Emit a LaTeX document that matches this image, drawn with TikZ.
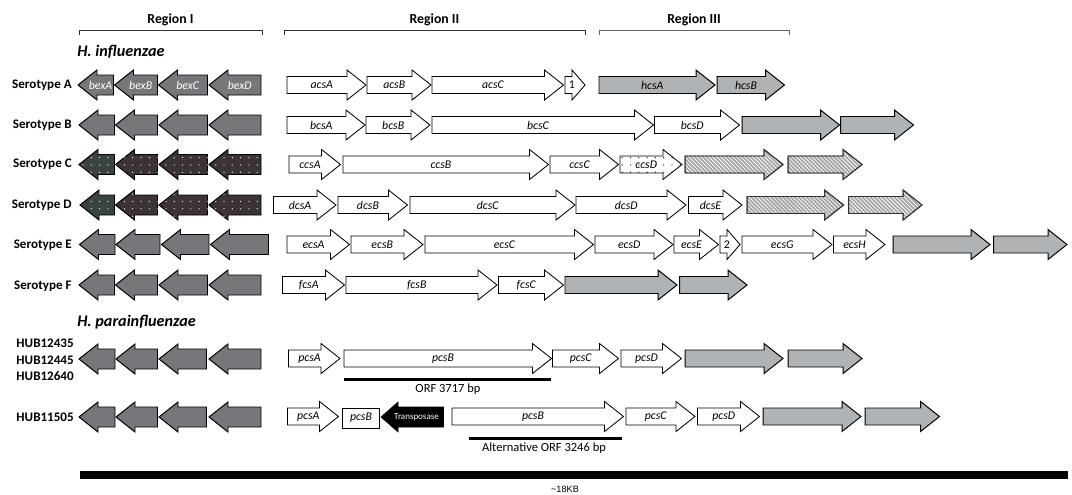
\documentclass[tikz,border=0pt]{standalone}
\usepackage{fontspec}
\setmainfont{Carlito}
\newfontfamily\arialfont{Liberation Sans}
\usepackage{xcolor}
\usetikzlibrary{patterns,patterns.meta}

\definecolor{bexgray}{RGB}{118,119,123}
\definecolor{hcsgray}{RGB}{176,179,181}
\definecolor{slatedark}{RGB}{59,66,66}
\definecolor{browndark}{RGB}{60,52,52}

\tikzdeclarepattern{
  name=sparsedots,
  type=uncolored,
  bottom left={(-1pt,-1pt)},
  top right={(1pt,1pt)},
  tile size={(5.9pt,5.2pt)},
  code={\fill (0pt,0pt) circle (0.45pt);}
}

% gene pointing right: [head] name, style, x start, x tip, y, label
\newcommand{\gener}[7][19]{%
  \draw[#3] (#4,#6-8.5) -- (#5-#1,#6-8.5) -- (#5-#1,#6-15) -- (#5,#6)
    -- (#5-#1,#6+15) -- (#5-#1,#6+8.5) -- (#4,#6+8.5) -- cycle;
  \node[genelab] (#2) at ({(#4+#5-#1/2)/2},#6) {#7};}
% gene pointing left: [head] name, style, x tip, x end, y, label
\newcommand{\genel}[7][19]{%
  \draw[#3] (#4,#6) -- (#4+#1,#6-15) -- (#4+#1,#6-10) -- (#5,#6-10)
    -- (#5,#6+10) -- (#4+#1,#6+10) -- (#4+#1,#6+15) -- cycle;
  \node[genelab, text=white] (#2) at ({(#4+#5+#1/2)/2},#6) {#7};}

\begin{document}
\begin{tikzpicture}[
  x=0.025cm, y=-0.025cm,
  bex/.style={draw=black, line width=0.7pt, fill=bexgray},
  bexdot/.style={draw=black, line width=0.7pt, fill=#1,
    postaction={pattern=sparsedots, pattern color=white}},
  cps/.style={draw=black, line width=0.6pt, fill=white},
  cpsdot/.style={cps, postaction={pattern=sparsedots, pattern color=black}},
  hcs/.style={draw=black, line width=0.7pt, fill=hcsgray},
  hatch/.style={draw=black!80, line width=0.7pt, fill=gray!70,
    postaction={pattern={Lines[angle=-45,distance=2pt,line width=0.55pt]},
      pattern color=white, draw=black!80, line width=0.7pt}},
  tnp/.style={draw=black, fill=black},
  genelab/.style={font=\fontsize{8.4}{10}\selectfont\itshape, inner sep=0pt},
  rowlab/.style={anchor=east, inner sep=0pt, font=\fontsize{9.3}{11}\selectfont\bfseries},
  regionlab/.style={inner sep=0pt, font=\fontsize{9.8}{12}\selectfont\bfseries},
  species/.style={anchor=west, inner sep=0pt, font=\fontsize{11.5}{14}\selectfont\bfseries\itshape},
  orflab/.style={inner sep=0pt, font=\fontsize{8.9}{11}\selectfont},
  bracket/.style={line width=0.6pt, black!80}
  ]
  \useasboundingbox (0,0) rectangle (1072,494);

  %% regions
  \node[regionlab] (r1) at (170.5,20) {Region I};
  \node[regionlab] (r2) at (434.5,20) {Region II};
  \node[regionlab] (r3) at (694,20) {Region III};
  \draw[bracket] (79,34.5) -- (79,30.5) -- (262,30.5) -- (262,34.5);
  \draw[bracket] (284,34.5) -- (284,30.5) -- (585,30.5) -- (585,34.5);
  \draw[bracket, black!60] (599,34.5) -- (599,30.5) -- (789,30.5) -- (789,34.5);

  \node[species] (hinf) at (77,52) {H. influenzae};

  %% Serotype A
  \node[rowlab] (sa) at (72,85) {Serotype A};
  \genel{bexA}{bex}{78}{113.5}{85}{bexA}
  \genel{bexB}{bex}{114.5}{157.5}{85}{bexB}
  \genel{bexC}{bex}{158.5}{207.5}{85}{bexC}
  \genel{bexD}{bex}{209}{261}{85}{bexD}
  \gener{acsA}{cps}{287}{366}{85}{acsA}
  \gener{acsB}{cps}{367}{431}{85}{acsB}
  \gener{acsC}{cps}{432}{563.5}{85}{acsC}
  \gener[13]{orf1}{cps}{565}{585}{85}{\upshape 1}
  \gener{hcsA}{hcs}{599}{715}{85}{hcsA}
  \gener{hcsB}{hcs}{717}{784.5}{85}{hcsB}

  %% Serotype B
  \node[rowlab] (sb) at (72,125) {Serotype B};
  \genel{bB1}{bex}{79}{114.5}{125}{}
  \genel{bB2}{bex}{115.5}{157.5}{125}{}
  \genel{bB3}{bex}{159}{207.5}{125}{}
  \genel{bB4}{bex}{209}{261}{125}{}
  \gener{bcsA}{cps}{287}{365}{125}{bcsA}
  \gener{bcsB}{cps}{366}{430}{125}{bcsB}
  \gener{bcsC}{cps}{432}{653.5}{125}{bcsC}
  \gener{bcsD}{cps}{654.5}{739.5}{125}{bcsD}
  \gener{hB1}{hcs}{742}{839.5}{125}{}
  \gener{hB2}{hcs}{840.5}{913.5}{125}{}

  %% Serotype C
  \node[rowlab] (sc) at (72,164.5) {Serotype C};
  \genel{bC1}{bexdot=slatedark}{79}{114.5}{164.5}{}
  \genel{bC2}{bexdot=browndark}{115.5}{157.5}{164.5}{}
  \genel{bC3}{bexdot=browndark}{159}{207.5}{164.5}{}
  \genel{bC4}{bexdot=browndark}{209}{261}{164.5}{}
  \gener{ccsA}{cps}{289}{340.5}{164.5}{ccsA}
  \gener{ccsB}{cps}{343}{548.5}{164.5}{ccsB}
  \gener{ccsC}{cps}{550}{618.5}{164.5}{ccsC}
  \gener{ccsD}{cpsdot}{620}{682}{164.5}{ccsD}
  \gener{hC1}{hatch}{685}{783}{164.5}{}
  \gener{hC2}{hatch}{788}{862}{164.5}{}

  %% Serotype D
  \node[rowlab] (sd) at (72,205) {Serotype D};
  \genel{bD1}{bexdot=slatedark}{80}{114.5}{205}{}
  \genel{bD2}{bexdot=browndark}{115.5}{157.5}{205}{}
  \genel{bD3}{bexdot=browndark}{159}{207.5}{205}{}
  \genel{bD4}{bexdot=browndark}{209}{261}{205}{}
  \gener{dcsA}{cps}{273.5}{336}{205}{dcsA}
  \gener{dcsB}{cps}{338}{407.5}{205}{dcsB}
  \gener{dcsC}{cps}{410}{575}{205}{dcsC}
  \gener{dcsD}{cps}{576}{686}{205}{dcsD}
  \gener{dcsE}{cps}{688.5}{742}{205}{dcsE}
  \gener{hD1}{hatch}{747}{843.5}{205}{}
  \gener{hD2}{hatch}{848.5}{922}{205}{}

  %% Serotype E
  \node[rowlab] (se) at (72,245) {Serotype E};
  \genel{bE1}{bex}{79.5}{115}{244.5}{}
  \genel{bE2}{bex}{116}{160}{244.5}{}
  \genel{bE3}{bex}{161.5}{209}{244.5}{}
  \genel{bE4}{bex}{210.5}{268.5}{244.5}{}
  \gener{ecsA}{cps}{287}{349.5}{244.5}{ecsA}
  \gener{ecsB}{cps}{351}{423}{244.5}{ecsB}
  \gener{ecsC}{cps}{425}{593.5}{244.5}{ecsC}
  \gener{ecsD}{cps}{595}{673}{244.5}{ecsD}
  \gener{ecsE}{cps}{674}{718.5}{244.5}{ecsE}
  \gener[13]{orf2}{cps}{720}{740}{244.5}{\upshape 2}
  \gener{ecsG}{cps}{742}{832}{244.5}{ecsG}
  \gener{ecsH}{cps}{833.5}{885}{244.5}{ecsH}
  \gener{hE1}{hcs}{893}{990}{244.5}{}
  \gener{hE2}{hcs}{993.5}{1067}{244.5}{}

  %% Serotype F
  \node[rowlab] (sf) at (72,286) {Serotype F};
  \genel{bF1}{bex}{79}{114.5}{285}{}
  \genel{bF2}{bex}{115.5}{157.5}{285}{}
  \genel{bF3}{bex}{159}{207.5}{285}{}
  \genel{bF4}{bex}{209}{261}{285}{}
  \gener{fcsA}{cps}{282.5}{344.5}{285}{fcsA}
  \gener{fcsB}{cps}{346}{497}{285}{fcsB}
  \gener{fcsC}{cps}{498.5}{563.5}{285}{fcsC}
  \gener{hF1}{hcs}{565}{677}{285}{}
  \gener{hF2}{hcs}{679.5}{747}{285}{}

  \node[species] (hpar) at (77,322) {H. parainfluenzae};

  %% HUB12435 / HUB12445 / HUB12640
  \node[rowlab] (hub1) at (74,343.5) {HUB12435};
  \node[rowlab] (hub2) at (74,360) {HUB12445};
  \node[rowlab] (hub3) at (74,376.5) {HUB12640};
  \genel{bP1}{bex}{79}{115}{359}{}
  \genel{bP2}{bex}{116}{157.5}{359}{}
  \genel{bP3}{bex}{159}{206.5}{359}{}
  \genel{bP4}{bex}{209}{261}{359}{}
  \gener{pcsA}{cps}{288.5}{340}{358.5}{pcsA}
  \gener{pcsB}{cps}{344}{551.5}{358.5}{pcsB}
  \gener{pcsC}{cps}{552.5}{618.5}{358.5}{pcsC}
  \gener{pcsD}{cps}{621}{681.5}{358.5}{pcsD}
  \gener{hP1}{hcs}{685}{783}{358.5}{}
  \gener{hP2}{hcs}{788}{862}{358.5}{}
  \draw[line width=2pt] (344,379.5) -- (551,379.5);
  \node[orflab] (orf) at (448,389) {ORF 3717 bp};

  %% HUB11505
  \node[rowlab] (hub4) at (74,417) {HUB11505};
  \genel{bQ1}{bex}{79}{115}{417}{}
  \genel{bQ2}{bex}{116}{157.5}{417}{}
  \genel{bQ3}{bex}{159}{206.5}{417}{}
  \genel{bQ4}{bex}{209}{261}{417}{}
  \gener{pcsA2}{cps}{287.5}{338.5}{416.5}{pcsA}
  \node[cps, genelab, minimum width=26.2pt, minimum height=14.2pt] (pcsBa) at (361,418) {pcsB};
  \genel[17]{tnp}{tnp}{381}{443.5}{417}{\upshape\fontsize{6.4}{8}\selectfont Transposase}
  \gener{pcsBb}{cps}{452}{623.5}{416.5}{pcsB}
  \gener{pcsC2}{cps}{626}{695}{416.5}{pcsC}
  \gener{pcsD2}{cps}{697.5}{759.5}{416.5}{pcsD}
  \gener{hQ1}{hcs}{763}{861}{416.5}{}
  \gener{hQ2}{hcs}{865}{939.5}{416.5}{}
  \draw[line width=2pt] (468.5,438.5) -- (621.5,438.5);
  \node[orflab] (altorf) at (544,448.5) {Alternative ORF 3246 bp};

  %% scale
  \draw[line width=5pt] (80,475) -- (1068,475);
  \node[inner sep=0pt, font=\arialfont\fontsize{6.5}{8}\selectfont] (scale) at (565,489.5) {\textasciitilde 18KB};
\end{tikzpicture}
\end{document}
